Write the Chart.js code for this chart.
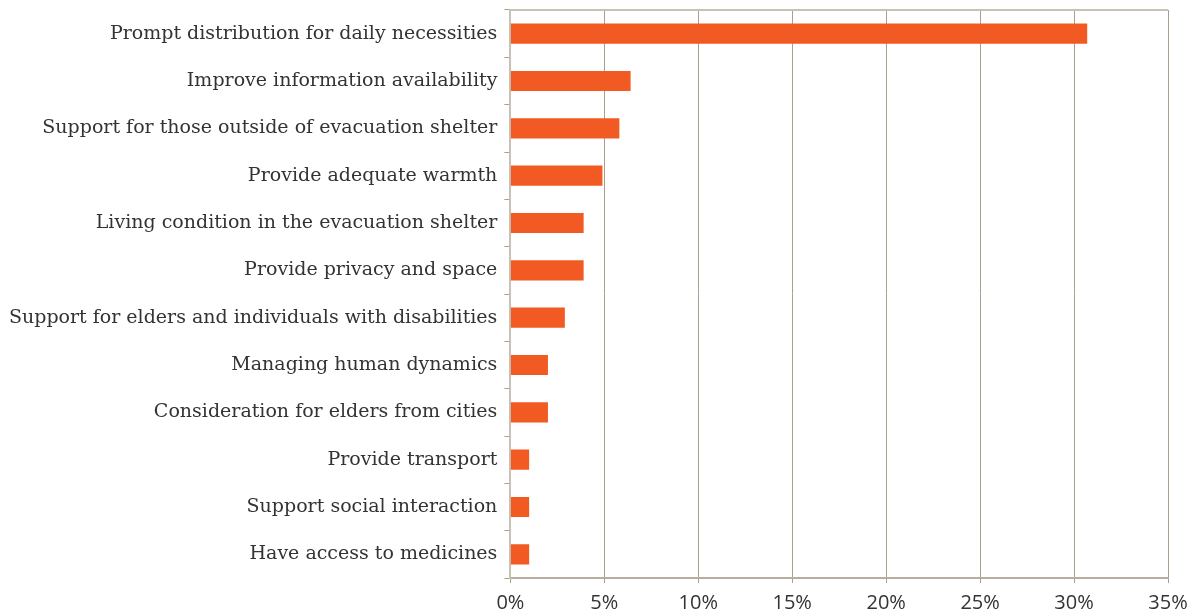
<!DOCTYPE html>
<html>
<head>
<meta charset="utf-8">
<script src="https://cdn.jsdelivr.net/npm/chart.js@4.4.0/dist/chart.umd.min.js"></script>
<style>
  html, body { margin: 0; padding: 0; background: #fff; }
  #wrap { width: 1198px; height: 614px; }
</style>
</head>
<body>
<div id="wrap"><canvas id="myChart" width="1198" height="614"></canvas></div>
<script>
var categories = [
    "Prompt distribution for daily necessities",
    "Improve information availability",
    "Support for those outside of evacuation shelter",
    "Provide adequate warmth",
    "Living condition in the evacuation shelter",
    "Provide privacy and space",
    "Support for elders and individuals with disabilities",
    "Managing human dynamics",
    "Consideration for elders from cities",
    "Provide transport",
    "Support social interaction",
    "Have access to medicines"
];
var shares = [30.7, 6.4, 5.8, 4.9, 3.9, 3.9, 2.9, 2.0, 2.0, 1.0, 1.0, 1.0];
var xTicks = [0, 5, 10, 15, 20, 25, 30, 35];

var ctx = document.getElementById('myChart');
var myBarChart = new Chart(ctx, {
    type: 'bar',
    data: {
        labels: categories,
        datasets: [{
            label: "Share",
            data: shares,
            backgroundColor: "#f15a22",
            borderWidth: 0,
            barPercentage: 0.85,
            categoryPercentage: 0.5
        }]
    },
    options: {
        indexAxis: 'y',
        responsive: false,
        animation: false,
        layout: { padding: { top: 10, right: 0, left: 2, bottom: 0 } },
        plugins: {
            legend: { display: false },
            tooltip: { enabled: false }
        },
        scales: {
            x: {
                min: 0,
                max: 35,
                afterBuildTicks: function (axis) {
                    axis.ticks = xTicks.map(function (v) { return { value: v }; });
                },
                afterFit: function (axis) {
                    axis.height = 36;
                    axis.paddingRight = 30;
                },
                grid: {
                    color: "#a99f8f",
                    lineWidth: 1,
                    tickLength: 5,
                    tickColor: "#a99f8f"
                },
                border: { color: "#b7ae9f", width: 2 },
                ticks: {
                    color: "#333333",
                    padding: 8,
                    maxRotation: 0,
                    font: { family: "'Open Sans', sans-serif", size: 20 },
                    callback: function (v) { return v + "%"; }
                }
            },
            y: {
                afterFit: function (axis) {
                    // category labels sit in the middle of their band, no extra margin needed
                    axis.paddingTop = 0;
                    axis.paddingBottom = 0;
                },
                grid: {
                    drawOnChartArea: false,
                    tickLength: 6,
                    tickColor: "#a99f8f",
                    offset: true
                },
                border: { color: "#c9c1b5", width: 2 },
                ticks: {
                    color: "#333333",
                    padding: 7,
                    font: { family: "'DejaVu Serif', serif", size: 19 }
                }
            }
        }
    },
    plugins: [{
        id: 'topBorder',
        afterDraw: function (chart) {
            var a = chart.chartArea, c = chart.ctx;
            c.save();
            c.strokeStyle = "#c9c1b5";
            c.lineWidth = 2;
            c.beginPath();
            c.moveTo(a.left, a.top);
            c.lineTo(a.right, a.top);
            c.stroke();
            c.strokeStyle = "#a99f8f";
            c.lineWidth = 1;
            c.beginPath();
            c.moveTo(a.right + 0.5, a.top);
            c.lineTo(a.right + 0.5, a.bottom);
            c.stroke();
            c.restore();
        }
    }]
});
</script>
</body>
</html>
